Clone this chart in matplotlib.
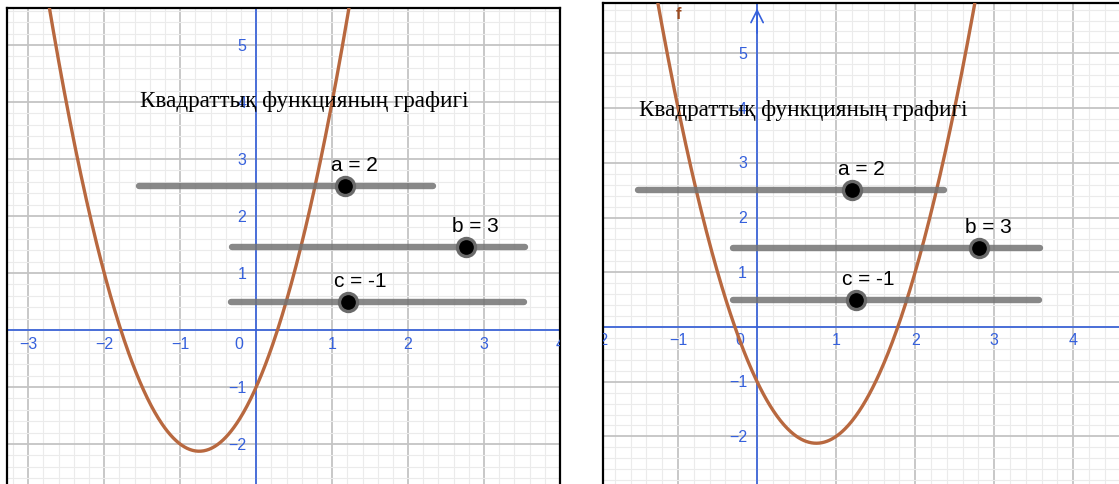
import matplotlib.pyplot as plt
import numpy as np

# coefficients of the plotted parabolas (a, b, c)
left_coef = [2, 3, -1]
right_coef = [2, -3, -1]

# slider names and the values shown next to them
slider_names = ['a', 'b', 'c']
left_slider_vals = [2, 3, -1]
right_slider_vals = [2, 3, -1]
slider_min, slider_max = -5, 5

title = 'Квадраттық функцияның графигі'

x_ticks = [-4, -3, -2, -1, 1, 2, 3, 4]
y_ticks = [-2, -1, 1, 2, 3, 4, 5]

blue = '#3560dc'
brown = '#b8683f'
W, H = 1119, 485

fig = plt.figure(figsize=(W / 100, H / 100), dpi=100)


def panel(rect, xlim, ylim, coef, vals, sliders, title_xy, frame, arrow=False, flabel=None):
    ax = fig.add_axes(rect)
    ax.set_xticks(np.arange(-4, 6, 1))
    ax.set_yticks(np.arange(-3, 7, 1))
    ax.set_xticks(np.arange(-4, 6, 0.2), minor=True)
    ax.set_yticks(np.arange(-3, 7, 0.2), minor=True)
    # limits after the ticks, set_xticks widens the view otherwise
    ax.set_xlim(*xlim)
    ax.set_ylim(*ylim)
    ax.grid(which='major', color='#c4c4c4', lw=1.3)
    ax.grid(which='minor', color='#ebebeb', lw=0.8)
    ax.set_axisbelow(True)
    ax.tick_params(which='both', length=0, labelbottom=False, labelleft=False)
    for side in ['left', 'right', 'top', 'bottom']:
        ax.spines[side].set_visible(side in frame)
        ax.spines[side].set_linewidth(1.6)
        ax.spines[side].set_color('black')

    # axes through the origin
    ax.axhline(0, color=blue, lw=1.2, zorder=2)
    ax.axvline(0, color=blue, lw=1.2, zorder=2)
    if arrow:
        ax.annotate('', xy=(0, ylim[1] - 0.05), xytext=(0, ylim[1] - 0.6),
                    arrowprops=dict(arrowstyle='->', color=blue, lw=1.2, mutation_scale=22))

    lab = dict(color=blue, fontsize=11.5, family='Liberation Sans', zorder=3)
    for t in x_ticks:
        if t < xlim[0] - 0.15 or t > xlim[1] + 0.15:
            continue
        ax.annotate(str(t).replace('-', '\u2212'), (t, 0), xytext=(0, -13),
                    textcoords='offset pixels', ha='center', va='center',
                    annotation_clip=False, clip_on=True, **lab)
    for t in y_ticks:
        ax.annotate(str(t).replace('-', '\u2212'), (0, t), xytext=(-10, 0),
                    textcoords='offset pixels', ha='right', va='center', **lab)
    ax.annotate('0', (0, 0), xytext=(-17, -13), textcoords='offset pixels',
                ha='center', va='center', **lab)

    # parabola
    xs = np.linspace(xlim[0], xlim[1], 600)
    a, b, c = coef
    ax.plot(xs, a * xs ** 2 + b * xs + c, color=brown, lw=2.4, zorder=4)
    if flabel:
        ax.text(flabel[0], flabel[1], 'f', color='#9a4a20', fontsize=12,
                fontweight='bold', family='Liberation Sans', ha='center', va='center')

    ax.text(title_xy[0], title_xy[1], title, family='Liberation Serif',
            fontsize=16.7, ha='left', va='center', zorder=5)

    # sliders
    for name, v, (x0, x1, y) in zip(slider_names, vals, sliders):
        ax.plot([x0, x1], [y, y], color='#737373', lw=4.6, alpha=0.85,
                solid_capstyle='round', zorder=5)
        kx = x0 + (v - slider_min) / (slider_max - slider_min) * (x1 - x0)
        ax.plot(kx, y, 'o', ms=13, mfc='black', mec='#6a6a6a', mew=2.4, zorder=6)
        ax.annotate(f'{name} = {v}', (kx, y), xytext=(-14, 16),
                    textcoords='offset pixels', ha='left', va='baseline',
                    fontsize=15, family='Liberation Sans', zorder=6)
    return ax


panel([7 / W, 0, (560 - 7) / W, (H - 9) / H], (-3.28, 4.0), (-2.70, 5.65),
      left_coef, left_slider_vals,
      [(-1.54, 2.33, 2.52), (-0.32, 3.54, 1.46), (-0.33, 3.53, 0.49)],
      (-1.53, 4.02), ['left', 'right', 'top'])

panel([603 / W, 0, (W - 603) / W, (H - 4) / H], (-1.95, 4.58), (-2.87, 5.92),
      right_coef, right_slider_vals,
      [(-1.51, 2.36, 2.50), (-0.30, 3.58, 1.44), (-0.30, 3.57, 0.49)],
      (-1.49, 3.97), ['left', 'top'], arrow=True, flabel=(-0.99, 5.72))

fig.savefig('out.png', dpi=100)
